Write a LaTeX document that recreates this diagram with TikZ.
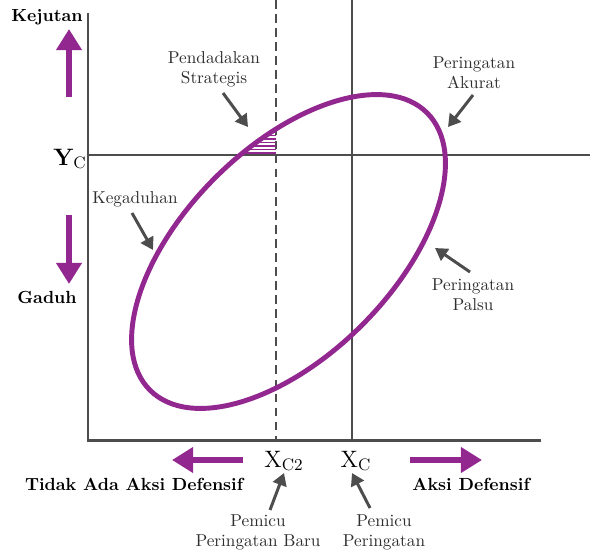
\documentclass[tikz,border=0pt]{standalone}
\usetikzlibrary{arrows.meta}
\definecolor{ring}{HTML}{92278F}
\definecolor{axis}{HTML}{4D4D4D}
\definecolor{note}{HTML}{2E2E2E}

\begin{document}
\begin{tikzpicture}[x=0.02cm, y=-0.02cm,
  pointer/.style={-{Triangle[length=7pt,width=8pt]}, line width=1.7pt, draw=axis},
  bigarrow/.style={-{Triangle[length=12pt,width=14pt]}, line width=3.4pt, draw=ring},
  lbl/.style={inner sep=0pt, font=\fontsize{9.8}{11.3}\selectfont, text=note, align=center},
  blbl/.style={inner sep=0pt, font=\fontsize{10}{11}\selectfont\bfseries, text=black},
  xlbl/.style={inner sep=0pt, font=\fontsize{13.5}{13.5}\selectfont, text=black}]
  \useasboundingbox (0,0) rectangle (590,551);

  % Reference lines
  \draw[line width=1.1pt, draw=axis] (88,155) -- (590,155);
  \draw[line width=1.1pt, draw=axis] (352,0) -- (352,440);
  \draw[line width=1.1pt, draw=axis, dash pattern=on 5pt off 3pt] (276,0) -- (276,440);

  % Axes
  \draw[line width=1.7pt, draw=axis] (88,13) -- (88,440) -- (541,440);

  % Hatched corner
  \coordinate (c) at (288.5,251.5);
  \begin{scope}
    \clip (c) ellipse [x radius=196, y radius=104, rotate=45];
    \clip (200,120) rectangle (276,155);
    \foreach \yy in {132,135.5,...,153}
      \draw[ring, line width=0.6pt] (200,\yy) -- (276,\yy);
  \end{scope}

  % Ellipse
  \draw[ring, line width=2.8pt] (c) ellipse [x radius=196, y radius=104, rotate=45];

  % Vertical axis labels
  \node[blbl] (kejutan) at (47,17) {Kejutan};
  \node[blbl] (gaduh) at (47,297) {Gaduh};
  \node[inner sep=0pt, font=\fontsize{13.5}{13.5}\selectfont\bfseries] (yc) at (70,159)
    {Y\textsubscript{\normalfont C}};
  \coordinate (up0) at (69,97);
  \coordinate (up1) at (69,29);
  \draw[bigarrow] (up0) -- (up1);
  \coordinate (dn0) at (69,215);
  \coordinate (dn1) at (69,284);
  \draw[bigarrow] (dn0) -- (dn1);

  % Horizontal axis labels
  \node[xlbl] (xc2) at (284,461) {X\textsubscript{C2}};
  \node[xlbl] (xc) at (356,461) {X\textsubscript{C}};
  \node[blbl] (noact) at (134,484) {Tidak Ada Aksi Defensif};
  \node[blbl] (act) at (471,484) {Aksi Defensif};
  \coordinate (lf0) at (243,460);
  \coordinate (lf1) at (172,460);
  \draw[bigarrow] (lf0) -- (lf1);
  \coordinate (rt0) at (410,460);
  \coordinate (rt1) at (482,460);
  \draw[bigarrow] (rt0) -- (rt1);

  % Notes
  \node[lbl] (strat) at (214,69) {Pendadakan\\Strategis};
  \node[lbl] (akurat) at (474,73) {Peringatan\\Akurat};
  \node[lbl] (palsu) at (473,295) {Peringatan\\Palsu};
  \node[lbl] (gadu) at (135,199) {Kegaduhan};
  \node[lbl] (trignew) at (258,532) {Pemicu\\Peringatan Baru};
  \node[lbl] (trig) at (384,532) {Pemicu\\Peringatan};

  % Pointers
  \coordinate (strat0) at (223,93);
  \coordinate (strat1) at (248,127);
  \draw[pointer] (strat0) -- (strat1);
  \coordinate (akurat0) at (473,95);
  \coordinate (akurat1) at (448,127);
  \draw[pointer] (akurat0) -- (akurat1);
  \coordinate (palsu0) at (470,272);
  \coordinate (palsu1) at (435,248);
  \draw[pointer] (palsu0) -- (palsu1);
  \coordinate (gadu0) at (132,213);
  \coordinate (gadu1) at (153,250);
  \draw[pointer] (gadu0) -- (gadu1);
  \coordinate (trignew0) at (270,510);
  \coordinate (trignew1) at (284,473);
  \draw[pointer] (trignew0) -- (trignew1);
  \coordinate (trig0) at (370,508);
  \coordinate (trig1) at (352,473);
  \draw[pointer] (trig0) -- (trig1);
\end{tikzpicture}
\end{document}
